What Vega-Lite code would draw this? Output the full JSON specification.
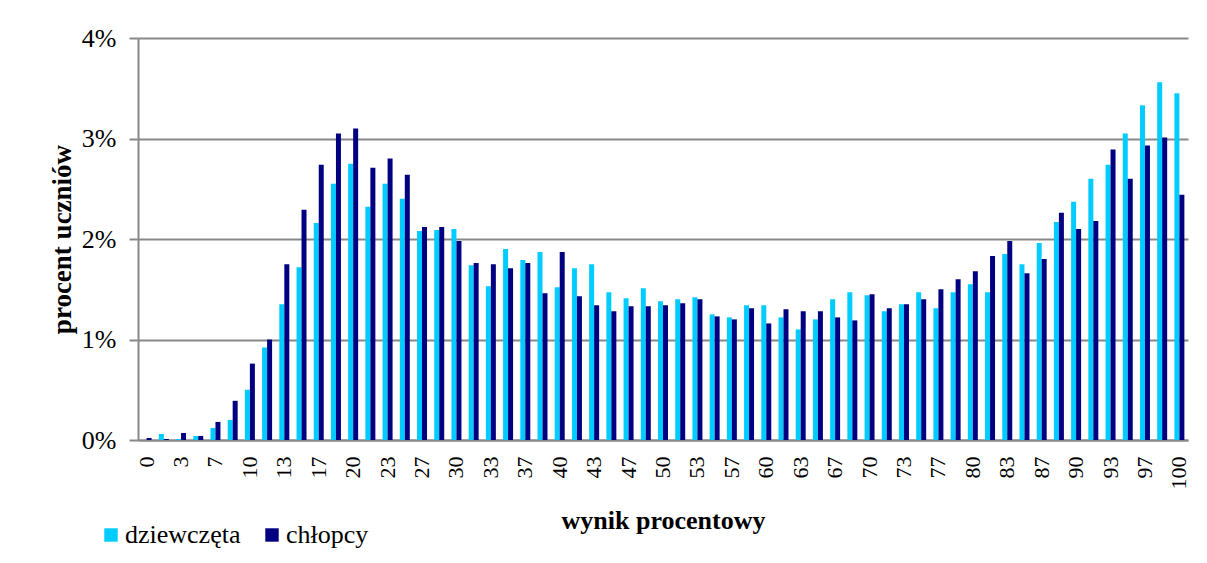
{
  "$schema": "https://vega.github.io/schema/vega-lite/v6.json",
  "width": 1050,
  "height": 402,
  "autosize": "none",
  "padding": {"left": 138, "top": 38, "right": 19, "bottom": 123},
  "background": "white",
  "config": {"font": "Liberation Serif", "view": {"stroke": null}},
  "data": {"values": [
    {"wynik": 0, "dziewczęta": 0.0, "chłopcy": 0.02},
    {"wynik": 2, "dziewczęta": 0.06, "chłopcy": 0.01},
    {"wynik": 3, "dziewczęta": 0.01, "chłopcy": 0.07},
    {"wynik": 5, "dziewczęta": 0.04, "chłopcy": 0.04},
    {"wynik": 7, "dziewczęta": 0.12, "chłopcy": 0.18},
    {"wynik": 8, "dziewczęta": 0.20, "chłopcy": 0.39},
    {"wynik": 10, "dziewczęta": 0.50, "chłopcy": 0.76},
    {"wynik": 12, "dziewczęta": 0.92, "chłopcy": 1.00},
    {"wynik": 13, "dziewczęta": 1.35, "chłopcy": 1.75},
    {"wynik": 15, "dziewczęta": 1.72, "chłopcy": 2.29},
    {"wynik": 17, "dziewczęta": 2.16, "chłopcy": 2.74},
    {"wynik": 18, "dziewczęta": 2.55, "chłopcy": 3.05},
    {"wynik": 20, "dziewczęta": 2.75, "chłopcy": 3.10},
    {"wynik": 22, "dziewczęta": 2.32, "chłopcy": 2.71},
    {"wynik": 23, "dziewczęta": 2.55, "chłopcy": 2.80},
    {"wynik": 25, "dziewczęta": 2.40, "chłopcy": 2.64},
    {"wynik": 27, "dziewczęta": 2.08, "chłopcy": 2.12},
    {"wynik": 28, "dziewczęta": 2.09, "chłopcy": 2.12},
    {"wynik": 30, "dziewczęta": 2.10, "chłopcy": 1.98},
    {"wynik": 32, "dziewczęta": 1.74, "chłopcy": 1.76},
    {"wynik": 33, "dziewczęta": 1.53, "chłopcy": 1.75},
    {"wynik": 35, "dziewczęta": 1.90, "chłopcy": 1.71},
    {"wynik": 37, "dziewczęta": 1.79, "chłopcy": 1.76},
    {"wynik": 38, "dziewczęta": 1.87, "chłopcy": 1.46},
    {"wynik": 40, "dziewczęta": 1.52, "chłopcy": 1.87},
    {"wynik": 42, "dziewczęta": 1.71, "chłopcy": 1.43},
    {"wynik": 43, "dziewczęta": 1.75, "chłopcy": 1.34},
    {"wynik": 45, "dziewczęta": 1.47, "chłopcy": 1.28},
    {"wynik": 47, "dziewczęta": 1.41, "chłopcy": 1.33},
    {"wynik": 48, "dziewczęta": 1.51, "chłopcy": 1.33},
    {"wynik": 50, "dziewczęta": 1.38, "chłopcy": 1.34},
    {"wynik": 52, "dziewczęta": 1.40, "chłopcy": 1.36},
    {"wynik": 53, "dziewczęta": 1.42, "chłopcy": 1.40},
    {"wynik": 55, "dziewczęta": 1.25, "chłopcy": 1.23},
    {"wynik": 57, "dziewczęta": 1.22, "chłopcy": 1.20},
    {"wynik": 58, "dziewczęta": 1.34, "chłopcy": 1.31},
    {"wynik": 60, "dziewczęta": 1.34, "chłopcy": 1.16},
    {"wynik": 62, "dziewczęta": 1.22, "chłopcy": 1.30},
    {"wynik": 63, "dziewczęta": 1.10, "chłopcy": 1.28},
    {"wynik": 65, "dziewczęta": 1.20, "chłopcy": 1.28},
    {"wynik": 67, "dziewczęta": 1.40, "chłopcy": 1.22},
    {"wynik": 68, "dziewczęta": 1.47, "chłopcy": 1.19},
    {"wynik": 70, "dziewczęta": 1.44, "chłopcy": 1.45},
    {"wynik": 72, "dziewczęta": 1.28, "chłopcy": 1.31},
    {"wynik": 73, "dziewczęta": 1.35, "chłopcy": 1.35},
    {"wynik": 75, "dziewczęta": 1.47, "chłopcy": 1.40},
    {"wynik": 77, "dziewczęta": 1.31, "chłopcy": 1.50},
    {"wynik": 78, "dziewczęta": 1.47, "chłopcy": 1.60},
    {"wynik": 80, "dziewczęta": 1.55, "chłopcy": 1.68},
    {"wynik": 82, "dziewczęta": 1.47, "chłopcy": 1.83},
    {"wynik": 83, "dziewczęta": 1.85, "chłopcy": 1.98},
    {"wynik": 85, "dziewczęta": 1.75, "chłopcy": 1.66},
    {"wynik": 87, "dziewczęta": 1.96, "chłopcy": 1.80},
    {"wynik": 88, "dziewczęta": 2.17, "chłopcy": 2.26},
    {"wynik": 90, "dziewczęta": 2.37, "chłopcy": 2.10},
    {"wynik": 92, "dziewczęta": 2.60, "chłopcy": 2.18},
    {"wynik": 93, "dziewczęta": 2.74, "chłopcy": 2.89},
    {"wynik": 95, "dziewczęta": 3.05, "chłopcy": 2.60},
    {"wynik": 97, "dziewczęta": 3.33, "chłopcy": 2.93},
    {"wynik": 98, "dziewczęta": 3.56, "chłopcy": 3.01},
    {"wynik": 100, "dziewczęta": 3.45, "chłopcy": 2.44}
  ]},
  "transform": [{"fold": ["dziewczęta", "chłopcy"], "as": ["plec", "procent"]}],
  "mark": {"type": "bar"},
  "encoding": {
    "x": {
      "field": "wynik",
      "type": "ordinal",
      "scale": {"paddingInner": 0.42, "paddingOuter": 0.21},
      "axis": {
        "values": [0, 3, 7, 10, 13, 17, 20, 23, 27, 30, 33, 37, 40, 43, 47, 50, 53, 57, 60, 63, 67, 70, 73, 77, 80, 83, 87, 90, 93, 97, 100],
        "labelAngle": -90,
        "labelFontSize": 22,
        "labelColor": "black",
        "ticks": false,
        "tickSize": 0,
        "labelPadding": 16,
        "domainColor": "#888888",
        "domainWidth": 2,
        "title": "wynik procentowy",
        "titleFontSize": 26,
        "titleFontWeight": "bold",
        "titleColor": "black",
        "titlePadding": 18
      }
    },
    "y": {
      "field": "procent",
      "type": "quantitative",
      "scale": {"domain": [0, 4]},
      "axis": {
        "values": [0, 1, 2, 3, 4],
        "labelExpr": "datum.value + '%'",
        "grid": true,
        "gridColor": "#888888",
        "gridWidth": 2,
        "tickColor": "#888888",
        "tickWidth": 2,
        "tickSize": 9,
        "labelPadding": 13,
        "labelFontSize": 26,
        "labelColor": "black",
        "domainColor": "#888888",
        "domainWidth": 2,
        "title": "procent uczniów",
        "titleFontSize": 27,
        "titleFontWeight": "bold",
        "titleColor": "black",
        "titlePadding": 5
      }
    },
    "xOffset": {"field": "plec", "type": "nominal", "scale": {"domain": ["dziewczęta", "chłopcy"]}},
    "color": {
      "field": "plec",
      "type": "nominal",
      "scale": {"domain": ["dziewczęta", "chłopcy"], "range": ["#00CCFF", "#000080"]},
      "legend": {
        "title": null,
        "orient": "none",
        "legendX": -40,
        "legendY": 484,
        "direction": "horizontal",
        "symbolType": "square",
        "symbolSize": 180,
        "symbolStrokeWidth": 0,
        "symbolOpacity": 1,
        "labelFontSize": 26,
        "labelColor": "black",
        "labelOffset": 1,
        "columnPadding": 18,
        "padding": 0
      }
    }
  }
}
